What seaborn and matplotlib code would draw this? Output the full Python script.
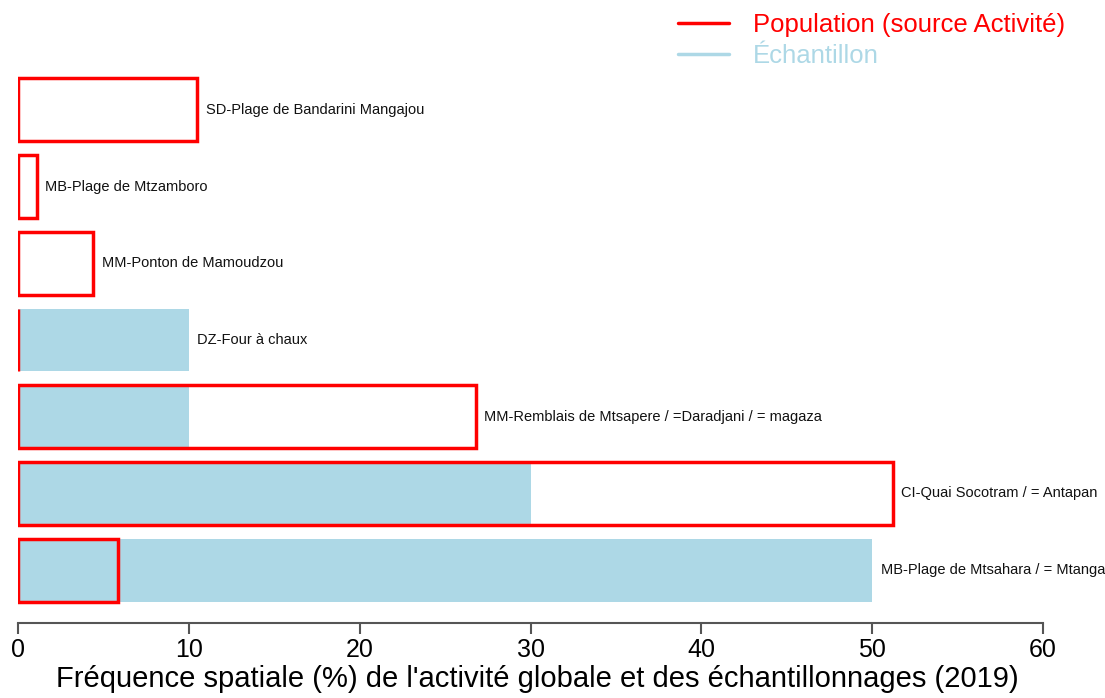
import pandas as pd
import seaborn as sns
import matplotlib.pyplot as plt
from matplotlib.lines import Line2D

sites = [
    "SD-Plage de Bandarini Mangajou",
    "MB-Plage de Mtzamboro",
    "MM-Ponton de Mamoudzou",
    "DZ-Four à chaux",
    "MM-Remblais de Mtsapere / =Daradjani / = magaza",
    "CI-Quai Socotram / = Antapan",
    "MB-Plage de Mtsahara / = Mtanga",
]
population = [10.5, 1.1, 4.4, 0.0, 26.8, 51.2, 5.85]
echantillon = [0.0, 0.0, 0.0, 10.0, 10.0, 30.0, 50.0]

df = pd.DataFrame({"site": sites, "population": population, "echantillon": echantillon})

sns.set_style("white")
plt.rcParams["font.family"] = ["Liberation Sans", "DejaVu Sans"]

fig = plt.figure(figsize=(11.05, 6.98), dpi=100)
ax = fig.add_axes([0.0163, 0.1074, 0.9276, 0.7923])

# sample (filled) then population (outline only) on top
sns.barplot(data=df, x="echantillon", y="site", orient="h", color="lightblue",
            saturation=1, width=0.82, linewidth=0, ax=ax)
sns.barplot(data=df, x="population", y="site", orient="h", color="red",
            fill=False, saturation=1, width=0.82, linewidth=2.5, ax=ax)

for i, row in df.iterrows():
    xpos = max(row["population"], row["echantillon"]) + 0.5
    ax.text(xpos, i, row["site"], va="center", ha="left", fontsize=10.5,
            color="#111111", clip_on=False)

ax.set_xlim(0, 60)
ax.set_ylim(6.69, -0.52)
ax.set_xticks(range(0, 61, 10))
ax.set_yticks([])
ax.set_ylabel("")
ax.set_xlabel("Fréquence spatiale (%) de l'activité globale et des échantillonnages (2019)",
              fontsize=21, color="black")
ax.xaxis.set_label_coords(0.507, -0.075)
for s in ["left", "top", "right"]:
    ax.spines[s].set_visible(False)
ax.spines["bottom"].set_color("#555555")
ax.spines["bottom"].set_linewidth(1.5)
ax.tick_params(axis="x", bottom=True, length=8, width=1.5, color="#555555",
               labelsize=18, labelcolor="black", pad=3)

handles = [Line2D([], [], color="red", lw=2.5),
           Line2D([], [], color="lightblue", lw=2.5)]
fig.legend(handles, ["Population (source Activité)", "Échantillon"],
           loc="upper left", bbox_to_anchor=(0.602, 1.0), frameon=False,
           fontsize=18.5, labelcolor=["red", "lightblue"], borderpad=0,
           handlelength=2.0, handletextpad=0.9, labelspacing=0.28)

fig.savefig("out.png", dpi=100)
